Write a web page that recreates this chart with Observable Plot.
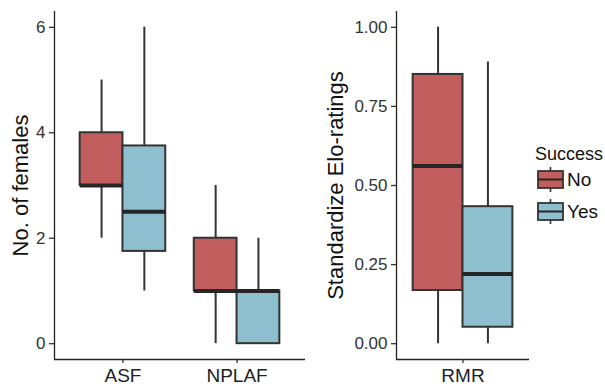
<!DOCTYPE html>
<html>
<head>
<meta charset="utf-8">
<script src="https://cdn.jsdelivr.net/npm/d3@7"></script>
<script src="https://cdn.jsdelivr.net/npm/@observablehq/plot@0.6"></script>
<style>
  html, body { margin: 0; padding: 0; background: #fff; }
  #wrap { position: relative; width: 605px; height: 386px; overflow: hidden; font-family: "Liberation Sans", Arial, sans-serif; }
  #left, #right, #legend { position: absolute; top: 0; }
  #left { left: 0; }
  #right { left: 305px; }
  #legend { left: 530px; top: 130px; }
</style>
</head>
<body>
<div id="wrap">
  <div id="left"></div>
  <div id="right"></div>
  <div id="legend"></div>
</div>
<script>
// ---------- data ----------
const successLevels = ["No", "Yes"];
const successColors = ["#C25E5E", "#8EBFCE"];

const leftCategories = ["ASF", "NPLAF"];
const leftCategory = ["ASF", "ASF", "NPLAF", "NPLAF"];
const leftSuccess = ["No", "Yes", "No", "Yes"];
const leftLow    = [2, 1, 0, 0];
const leftQ1     = [3, 1.75, 1, 0];
const leftMedian = [3, 2.5, 1, 1];
const leftQ3     = [4, 3.75, 2, 1];
const leftHigh   = [5, 6, 3, 2];
const leftTicks  = [0, 2, 4, 6];
const leftTitle  = "No. of females";

const rightCategories = ["RMR"];
const rightCategory = ["RMR", "RMR"];
const rightSuccess = ["No", "Yes"];
const rightLow    = [0, 0];
const rightQ1     = [0.168, 0.052];
const rightMedian = [0.562, 0.22];
const rightQ3     = [0.851, 0.433];
const rightHigh   = [1.0, 0.89];
const rightTicks  = [0, 0.25, 0.5, 0.75, 1];
const rightTitle  = "Standardize Elo-ratings";

const legendTitle = "Success";

// ---------- helpers ----------
const FONT = "'Liberation Sans', Arial, sans-serif";
const LINE = "#333333";

function buildRows(cats, catList, succ, low, q1, med, q3, high, half) {
  return catList.map((c, i) => {
    const pos = cats.indexOf(c) + 1;
    const isNo = succ[i] === successLevels[0];
    return {
      cat: c, success: succ[i], pos,
      x1: isNo ? pos - half : pos,
      x2: isNo ? pos : pos + half,
      xc: isNo ? pos - half / 2 : pos + half / 2,
      low: low[i], q1: q1[i], med: med[i], q3: q3[i], high: high[i]
    };
  });
}

function panel({rows, cats, width, marginLeft, marginRight, yDomain, ticks, tickFmt, title, titleDx}) {
  const xDomain = [0.4, cats.length + 0.6];
  return Plot.plot({
    width, height: 386,
    marginLeft, marginRight, marginTop: 11, marginBottom: 27,
    style: {fontFamily: FONT, background: "transparent", overflow: "visible", color: "#333"},
    x: {type: "linear", domain: xDomain},
    y: {type: "linear", domain: yDomain},
    color: {domain: successLevels, range: successColors},
    marks: [
      Plot.ruleX(rows, {x: "xc", y1: "low", y2: "high", stroke: LINE, strokeWidth: 2}),
      Plot.rect(rows, {x1: "x1", x2: "x2", y1: "q1", y2: "q3", fill: "success", stroke: LINE, strokeWidth: 2}),
      Plot.ruleY(rows, {x1: "x1", x2: "x2", y: "med", stroke: "#262626", strokeWidth: 4}),
      Plot.ruleX([xDomain[0]], {stroke: "#222", strokeWidth: 1.3}),
      Plot.ruleY([yDomain[0]], {stroke: "#222", strokeWidth: 1.3}),
      Plot.axisY({ticks, tickFormat: tickFmt, tickSize: 5, tickPadding: 4, fontSize: 17, label: null, stroke: LINE, strokeWidth: 1.3, fill: "#333"}),
      Plot.axisX({ticks: cats.map((c, i) => i + 1), tickFormat: d => cats[d - 1], tickSize: 4, tickPadding: 5, fontSize: 19, label: null, stroke: LINE, strokeWidth: 1.3, fill: "#222"}),
      Plot.text([title], {frameAnchor: "left", textAnchor: "middle", lineAnchor: "middle", dx: titleDx, rotate: -90, fontSize: 22, fill: "#111"})
    ]
  });
}

// ---------- left panel ----------
const leftRows = buildRows(leftCategories, leftCategory, leftSuccess, leftLow, leftQ1, leftMedian, leftQ3, leftHigh, 0.375);
document.getElementById("left").appendChild(panel({
  rows: leftRows, cats: leftCategories, width: 305, marginLeft: 54, marginRight: 0,
  yDomain: [-0.3, 6.3], ticks: leftTicks, tickFmt: d3.format("d"), title: leftTitle, titleDx: -34
}));

// ---------- right panel ----------
const rightRows = buildRows(rightCategories, rightCategory, rightSuccess, rightLow, rightQ1, rightMedian, rightQ3, rightHigh, 0.45);
document.getElementById("right").appendChild(panel({
  rows: rightRows, cats: rightCategories, width: 300, marginLeft: 91, marginRight: 76,
  yDomain: [-0.05, 1.05], ticks: rightTicks, tickFmt: d3.format(".2f"), title: rightTitle, titleDx: -61
}));

// ---------- legend ----------
const lg = d3.select("#legend").append("svg").attr("width", 75).attr("height", 100)
  .style("font-family", FONT).style("overflow", "visible");
lg.append("text").attr("x", 5).attr("y", 30).attr("font-size", 18).attr("fill", "#111").text(legendTitle);
successLevels.forEach((s, i) => {
  const top = 41 + i * 32;
  const g = lg.append("g");
  g.append("line").attr("x1", 20.5).attr("x2", 20.5).attr("y1", top - 4).attr("y2", top + 21).attr("stroke", LINE).attr("stroke-width", 1.6);
  g.append("rect").attr("x", 8).attr("y", top).attr("width", 25).attr("height", 17).attr("fill", successColors[i]).attr("stroke", LINE).attr("stroke-width", 1.8);
  g.append("line").attr("x1", 8).attr("x2", 33).attr("y1", top + 8.5).attr("y2", top + 8.5).attr("stroke", "#262626").attr("stroke-width", 2);
  g.append("text").attr("x", 37).attr("y", top + 15).attr("font-size", 19).attr("fill", "#111").text(s);
});
</script>
</body>
</html>
